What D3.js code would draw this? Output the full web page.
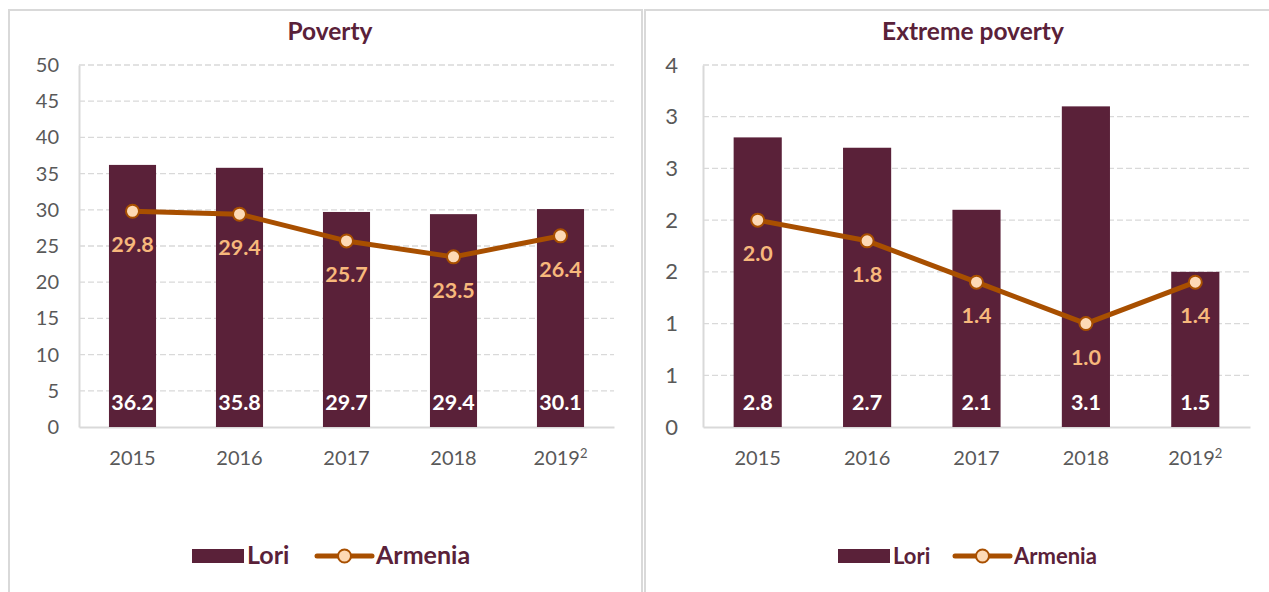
<!DOCTYPE html>
<html>
<head>
<meta charset="utf-8">
<script src="https://cdn.jsdelivr.net/npm/d3@7"></script>
<style>
  body { margin: 0; background: #fff; }
  svg { display: block; font-family: "Lato", sans-serif; }
</style>
</head>
<body>
<svg id="chart" width="1269" height="592"></svg>
<script>
const years = ["2015", "2016", "2017", "2018", "2019"];
const yearSup = ["", "", "", "", "2"];
const povertyLori = [36.2, 35.8, 29.7, 29.4, 30.1];
const povertyArmenia = [29.8, 29.4, 25.7, 23.5, 26.4];
const extremeLori = [2.8, 2.7, 2.1, 3.1, 1.5];
const extremeArmenia = [2.0, 1.8, 1.4, 1.0, 1.4];
const povertyTicks = [0, 5, 10, 15, 20, 25, 30, 35, 40, 45, 50];
const extremeTicks = [0, 0.5, 1, 1.5, 2, 2.5, 3, 3.5];
const extremeTickLabels = ["0", "1", "1", "2", "2", "3", "3", "4"];
const titles = ["Poverty", "Extreme poverty"];
const seriesNames = ["Lori", "Armenia"];

const barColor = "#5a2139";
const lineColor = "#a84f00";
const markerFill = "#fdd9b5";
const lineLabelColor = "#f7b87c";
const titleColor = "#5a2139";
const axisTextColor = "#595959";
const gridColor = "#d9d9d9";

const svg = d3.select("#chart");

// panel frames
svg.append("rect").attr("x", 9).attr("y", 10).attr("width", 633).attr("height", 600)
  .attr("fill", "none").attr("stroke", "#d9d9d9").attr("stroke-width", 2);
svg.append("rect").attr("x", 645).attr("y", 10).attr("width", 640).attr("height", 600)
  .attr("fill", "none").attr("stroke", "#d9d9d9").attr("stroke-width", 2);

function panel(cfg) {
  const g = svg.append("g");
  const x = d3.scaleBand().domain(years).range([cfg.x0, cfg.x1]).paddingInner(0.56).paddingOuter(0.28);
  const y = d3.scaleLinear().domain(cfg.domain).range([427, 65]);

  // title
  g.append("text").attr("x", cfg.titleX).attr("y", 40).attr("text-anchor", "middle")
    .attr("font-size", cfg.titleSize).attr("font-weight", "bold").attr("fill", titleColor).text(cfg.title);

  // grid
  g.append("g").selectAll("line").data(cfg.ticks.filter(t => t > 0)).join("line")
    .attr("x1", cfg.x0).attr("x2", cfg.x1)
    .attr("y1", d => y(d)).attr("y2", d => y(d))
    .attr("stroke", gridColor).attr("stroke-width", 1.3).attr("stroke-dasharray", "6,3");

  // y axis
  const yAxis = d3.axisLeft(y).tickValues(cfg.ticks).tickSize(0).tickPadding(cfg.yPad)
    .tickFormat((d, i) => cfg.tickLabels[i]);
  const ya = g.append("g").attr("transform", `translate(${cfg.x0},0)`).call(yAxis);
  ya.select(".domain").attr("stroke", gridColor).attr("stroke-width", 2);
  ya.selectAll("text").attr("font-size", cfg.yFont).attr("fill", axisTextColor).attr("font-family", "Lato, sans-serif");

  // x axis
  const xAxis = d3.axisBottom(x).tickSize(0).tickPadding(24);
  const xa = g.append("g").attr("transform", `translate(0,${y(0)})`).call(xAxis);
  xa.select(".domain").attr("stroke", gridColor).attr("stroke-width", 2);
  xa.selectAll("text").attr("font-size", 20).attr("fill", axisTextColor)
    .attr("font-family", "Lato, sans-serif")
    .each(function(d, i) {
      if (yearSup[i]) {
        d3.select(this).append("tspan").attr("dy", -7).attr("font-size", 13).text(yearSup[i]);
      }
    });

  // bars
  g.append("g").selectAll("rect").data(cfg.bars).join("rect")
    .attr("x", (d, i) => x(years[i])).attr("width", x.bandwidth())
    .attr("y", d => y(d)).attr("height", d => y(0) - y(d))
    .attr("fill", barColor);

  // bar labels
  g.append("g").selectAll("text").data(cfg.bars).join("text")
    .attr("x", (d, i) => x(years[i]) + x.bandwidth() / 2).attr("y", y(0) - 17)
    .attr("text-anchor", "middle").attr("font-size", 21.5).attr("font-weight", "bold")
    .attr("fill", "#fff").text(d => d.toFixed(1));

  // line
  const line = d3.line().x((d, i) => x(years[i]) + x.bandwidth() / 2).y(d => y(d));
  g.append("path").datum(cfg.line).attr("d", line)
    .attr("fill", "none").attr("stroke", lineColor).attr("stroke-width", 5).attr("stroke-linejoin", "round");
  g.append("g").selectAll("circle").data(cfg.line).join("circle")
    .attr("cx", (d, i) => x(years[i]) + x.bandwidth() / 2).attr("cy", d => y(d)).attr("r", 6.5)
    .attr("fill", markerFill).attr("stroke", lineColor).attr("stroke-width", 2);
  g.append("g").selectAll("text").data(cfg.line).join("text")
    .attr("x", (d, i) => x(years[i]) + x.bandwidth() / 2).attr("y", d => y(d) + 41)
    .attr("text-anchor", "middle").attr("font-size", 21.5).attr("font-weight", "bold")
    .attr("fill", lineLabelColor).text(d => d.toFixed(1));

  // legend
  const lg = g.append("g").attr("transform", `translate(${cfg.legendX},556)`);
  lg.append("rect").attr("x", 0).attr("y", -7).attr("width", 52).attr("height", 14).attr("fill", barColor);
  lg.append("text").attr("x", 55).attr("y", 8).attr("font-size", cfg.legendFont).attr("font-weight", "bold")
    .attr("fill", titleColor).text(seriesNames[0]);
  lg.append("line").attr("x1", cfg.legendGap).attr("x2", cfg.legendGap + 55).attr("y1", 0).attr("y2", 0)
    .attr("stroke", lineColor).attr("stroke-width", 5).attr("stroke-linecap", "round");
  lg.append("circle").attr("cx", cfg.legendGap + 27.5).attr("cy", 0).attr("r", 6.5)
    .attr("fill", markerFill).attr("stroke", lineColor).attr("stroke-width", 2);
  lg.append("text").attr("x", cfg.legendGap + 59).attr("y", 8).attr("font-size", cfg.legendFont).attr("font-weight", "bold")
    .attr("fill", titleColor).text(seriesNames[1]);
}

panel({ x0: 79, x1: 614, domain: [0, 50], ticks: povertyTicks, tickLabels: povertyTicks.map(String),
  bars: povertyLori, line: povertyArmenia, title: titles[0], titleX: 330, titleSize: 24.5,
  legendX: 192, legendGap: 125, legendFont: 25, yPad: 20, yFont: 20 });
panel({ x0: 703, x1: 1250, domain: [0, 3.5], ticks: extremeTicks, tickLabels: extremeTickLabels,
  bars: extremeLori, line: extremeArmenia, title: titles[1], titleX: 973, titleSize: 24.5,
  legendX: 838, legendGap: 117, legendFont: 22, yPad: 25, yFont: 22 });
</script>
</body>
</html>
